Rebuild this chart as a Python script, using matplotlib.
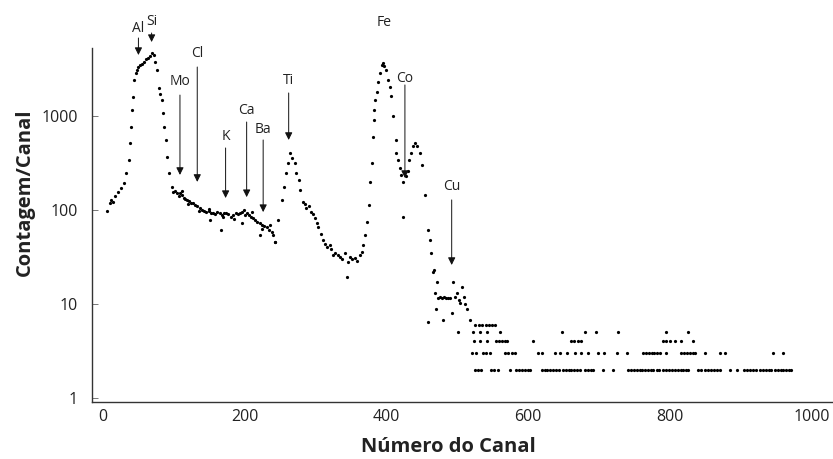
import matplotlib
matplotlib.use("Agg")
import matplotlib.pyplot as plt

# ---------------- data ----------------
spec_channel = [6, 10, 12, 14, 17, 21, 25, 30, 32, 36, 38, 39.5, 40.5, 42, 44, 46, 48, 50, 52, 55,
                58, 61, 63, 66, 69, 72, 74, 76, 79, 81, 83, 85, 86.5, 88.5, 91, 93.5, 97, 99,
                102, 104, 107, 109, 111, 114, 116, 118, 121, 124, 127, 130, 133, 137, 140, 143,
                146, 149, 152, 155, 158, 161, 165, 168, 171, 174, 177, 180, 184, 187, 190, 193,
                196, 199, 203, 206, 209, 212, 215, 218, 221, 224, 227, 231, 234, 238, 240, 243,
                247, 252, 255, 258, 261, 264, 267, 271, 273, 277, 278, 282, 285, 287, 290, 294,
                297, 299, 302, 304, 307, 310, 313, 316, 320, 322, 325, 328, 331, 334, 337, 341,
                344, 345, 348, 351, 355, 358, 362, 365, 367, 370, 372, 375, 377, 379, 381, 382,
                383, 384, 386, 388, 391, 393, 395, 397, 399, 402, 405, 407, 409, 413, 414, 416,
                419, 421, 424, 427, 430, 432, 435, 438, 440, 443, 447, 450, 454, 459, 461, 463,
                467, 471]
spec_counts = [98, 120, 128, 122, 140, 155, 170, 194, 250, 340, 520, 760, 1150, 1600, 2400, 2900,
               3100, 3300, 3500, 3600, 3800, 4000, 4150, 4400, 4700, 4500, 3800, 3100, 2000, 1700,
               1470, 1080, 760, 550, 365, 250, 175, 155, 160, 150, 140, 152, 145, 135, 130, 128,
               125, 120, 118, 112, 110, 105, 100, 98, 95, 97, 93, 93, 90, 95, 93, 88, 92, 93, 90,
               85, 88, 92, 90, 93, 95, 100, 93, 88, 85, 82, 78, 75, 72, 70, 68, 66, 62, 58, 54,
               46, 78, 128, 175, 250, 320, 400, 360, 315, 250, 208, 165, 122, 115, 105, 110, 96,
               90, 82, 72, 66, 55, 48, 44, 40, 42, 38, 33, 35, 33, 32, 30, 35, 19.6, 28, 32, 30,
               31, 29, 33, 36, 42, 54, 75, 113, 200, 315, 600, 900, 1150, 1480, 1800, 2300, 2900,
               3500, 3650, 3400, 3100, 2400, 2050, 1650, 990, 550, 400, 340, 280, 235, 200, 230,
               260, 340, 400, 480, 520, 480, 400, 300, 145, 61, 48, 35, 23, 17]

# scattered extra readings (spread of the noisy data)
scatter_channel = [112, 120, 135, 150, 151, 167, 170, 185, 196, 200, 210, 221, 225, 235, 243,
                   424, 459, 466, 468, 470, 473, 476, 479, 480, 481, 484, 487, 490, 492, 494, 497,
                   500, 501, 502, 504, 506, 509, 511, 513, 518]
scatter_counts = [160, 115, 98, 102, 78, 61, 85, 80, 72, 88, 95, 54, 63, 70, 46,
                  84, 6.5, 22, 13, 8.8, 11.6, 12, 11.6, 6.8, 11.8, 11.6, 11.5, 11.6, 8, 17, 12,
                  13, 5, 11, 10.2, 15, 12, 10, 8.8, 6.7]

# low-count tail: channels at each integer count level
tail2_channel = [525, 529, 533, 548, 552, 557, 574, 583, 587, 591, 595, 599, 603, 619, 623, 627,
                 631, 635, 639, 643, 649, 653, 657, 661, 665, 669, 673, 680, 684, 688, 692, 706,
                 720, 741, 745, 749, 753, 757, 761, 765, 769, 773, 776, 781, 785, 790, 795, 799,
                 803, 807, 811, 815, 819, 823, 826, 840, 844, 849, 854, 858, 862, 866, 870, 884,
                 894, 905, 909, 913, 917, 921, 927, 931, 935, 939, 943, 948, 952, 956, 960, 964,
                 968, 971]
tail3_channel = [520, 527, 536, 541, 546, 567, 572, 577, 581, 614, 619, 638, 645, 654, 666, 675,
                 684, 699, 707, 725, 739, 762, 766, 770, 774, 778, 782, 786, 795, 816, 820, 824,
                 828, 832, 835, 849, 870, 877, 945, 959]
tail4_channel = [523, 532, 542, 555, 559, 563, 567, 570, 607, 661, 665, 670, 675, 790, 795,
                 800, 807, 816, 833]
tail5_channel = [522, 532, 542, 560, 647, 680, 696, 727, 795, 826]
tail6_channel = [525, 530, 535, 540, 545, 549, 553]

tail_levels = [2, 3, 4, 5, 6]

# element markers: name, channel, label count, arrow start count, arrow tip count
elements = ["Al", "Si", "Mo", "Cl", "K", "Ca", "Ba", "Ti", "Fe", "Co", "Cu"]
element_channel = [50, 68.6, 108.6, 133, 173, 202.7, 226, 262, 396, 426, 492]
label_count = [8430, 10080, 2300, 4680, 598, 1158, 710, 2415, 10000, 2476, 176]
arrow_start = [6760, 7640, 1670, 3320, 457, 863, 556, 1758, None, 2140, 128]
arrow_tip = [4455, 6120, 236, 199, 134, 137, 95, 556, None, 219, 26]

x_ticks = [0, 200, 400, 600, 800, 1000]
y_ticks = [1, 10, 100, 1000]
y_ticklabels = ["1", "10", "100", "1000"]

# ---------------- figure ----------------
plt.rcParams['font.family'] = ['Open Sans', 'DejaVu Sans']

W, H = 833, 459
fig = plt.figure(figsize=(W / 100, H / 100), dpi=100)
ax = fig.add_axes([92 / W, 57 / H, (W - 92) / W, (402 - 48) / H])

ax.set_yscale('log')
ax.set_xlim(-15.5, 1030)
ax.set_ylim(0.906, 5290)

dot = dict(linestyle='none', marker='o', color='black', markersize=2.3, markeredgewidth=0)
ax.plot(spec_channel, spec_counts, **dot)
ax.plot(scatter_channel, scatter_counts, **dot)
for lev, chans in zip(tail_levels, [tail2_channel, tail3_channel, tail4_channel,
                                    tail5_channel, tail6_channel]):
    ax.plot(chans, [lev] * len(chans), **dot)

for name, ch, lc, s, t in zip(elements, element_channel, label_count, arrow_start, arrow_tip):
    ax.text(ch, lc, name, ha='center', va='center', fontsize=10, color='#222222',
            clip_on=False)
    if s is not None:
        ax.annotate('', xy=(ch, t), xytext=(ch, s), annotation_clip=False,
                    arrowprops=dict(arrowstyle='-|>', color='#111111', lw=0.7,
                                    mutation_scale=11, shrinkA=0, shrinkB=0))

for side in ['top', 'right']:
    ax.spines[side].set_visible(False)
for side in ['left', 'bottom']:
    ax.spines[side].set_color('#333333')
    ax.spines[side].set_linewidth(1.0)

ax.set_xticks(x_ticks)
ax.set_xticklabels([str(v) for v in x_ticks])
ax.set_yticks(y_ticks)
ax.set_yticklabels(y_ticklabels)
ax.minorticks_off()
ax.tick_params(axis='y', direction='in', length=4, width=0.7, color='#777777',
               labelsize=11.5, labelcolor='#222222', pad=10)
ax.tick_params(axis='x', length=0, labelsize=11.5, labelcolor='#222222', pad=5)
for lab in ax.get_xticklabels() + ax.get_yticklabels():
    lab.set_fontweight('medium')

fig.text(448 / W, 1 - 447 / H, 'Número do Canal', ha='center', va='center',
         fontsize=14.5, fontweight='bold', color='#222222')
fig.text(25 / W, 1 - 192 / H, 'Contagem/Canal', ha='center', va='center', rotation=90,
         fontsize=14.5, fontweight='bold', color='#222222')

fig.savefig('out.png', dpi=100, facecolor='white')
